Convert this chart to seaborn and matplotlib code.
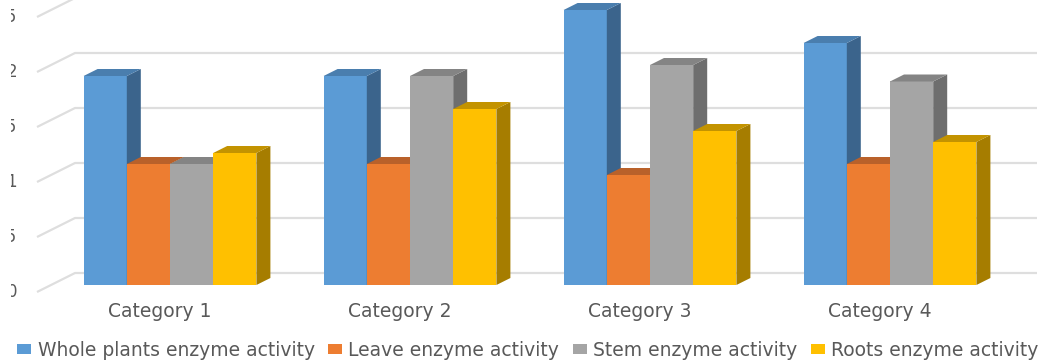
import numpy as np
import pandas as pd
import seaborn as sns
import matplotlib
matplotlib.use("Agg")
import matplotlib.pyplot as plt
from matplotlib.patches import Polygon, Patch
from matplotlib.transforms import ScaledTranslation, Bbox, TransformedBbox

# ---- data -------------------------------------------------------------
categories = ["Category 1", "Category 2", "Category 3", "Category 4"]
series = ["Whole plants enzyme activity", "Leave enzyme activity",
          "Stem enzyme activity", "Roots enzyme activity"]
whole_plants = [1.9, 1.9, 2.5, 2.2]
leave = [1.1, 1.1, 1.0, 1.1]
stem = [1.1, 1.9, 2.0, 1.85]
roots = [1.2, 1.6, 1.4, 1.3]
y_ticks = [0, 0.5, 1, 1.5, 2, 2.5]
y_tick_labels = ["0", "0.5", "1", "1.5", "2", "2.5"]

front_colors = ["#5b9bd5", "#ed7d31", "#a5a5a5", "#ffc000"]
side_colors = ["#3b648c", "#a85a22", "#6e6e6e", "#a67d00"]
top_colors = ["#4a7eae", "#b9612a", "#848484", "#c39300"]
text_color = "#595959"
grid_color = "#dedede"

df = pd.DataFrame({
    "category": categories * 4,
    "series": [s for s in series for _ in categories],
    "value": whole_plants + leave + stem + roots,
})

# ---- figure / axes geometry (pixels) ----------------------------------
W, H, DPI = 1040, 364, 100
PX_X = 240.0        # pixels per category step
PX_Y = 110.0        # pixels per value unit
X0_PX = 170.0       # centre of the first category
BASE_PX = 285.0     # bar baseline, from the top of the image

sns.set_theme(style="white")
plt.rcParams["font.family"] = ["DejaVu Sans"]

fig = plt.figure(figsize=(W / DPI, H / DPI), dpi=DPI)
ax = fig.add_axes([0, (H - BASE_PX) / H, 1, BASE_PX / H])

sns.barplot(data=df, x="category", y="value", hue="series",
            hue_order=series, order=categories, palette=front_colors,
            width=0.72, saturation=1, legend=False, ax=ax,
            errorbar=None, linewidth=0)

ax.set_xlim(-X0_PX / PX_X, (W - X0_PX) / PX_X)
ax.set_ylim(0, BASE_PX / PX_Y)
for s in ax.spines.values():
    s.set_visible(False)
ax.set_xlabel("")
ax.set_ylabel("")

# depth offsets for the oblique 3-D look (in data units)
bar_dx, bar_dy = 14 / PX_X, 7 / PX_Y
floor_front_dy = 7 / PX_Y
wall_dy = 12 / PX_Y
floor_dx = 38 / PX_X
grid_x0 = (37 - X0_PX) / PX_X
grid_x1 = (1037 - X0_PX) / PX_X

# back-wall gridlines with their slanted floor segments
for v in y_ticks:
    ax.plot([grid_x0, grid_x0 + floor_dx, grid_x1],
            [v - floor_front_dy, v + wall_dy, v + wall_dy],
            color=grid_color, lw=1.6, zorder=0.5, clip_on=False,
            solid_capstyle="butt")

# side and top faces for each seaborn bar
for j, container in enumerate(ax.containers):
    for bar in container:
        x, w, h = bar.get_x(), bar.get_width(), bar.get_height()
        bar.set_zorder(2 + 2 * j)
        side = Polygon([(x + w, 0), (x + w + bar_dx, bar_dy),
                        (x + w + bar_dx, h + bar_dy), (x + w, h)],
                       closed=True, facecolor=side_colors[j], edgecolor="none",
                       zorder=3 + 2 * j, clip_on=False)
        top = Polygon([(x, h), (x + bar_dx, h + bar_dy),
                       (x + w + bar_dx, h + bar_dy), (x + w, h)],
                      closed=True, facecolor=top_colors[j], edgecolor="none",
                      zorder=3 + 2 * j, clip_on=False)
        ax.add_patch(side)
        ax.add_patch(top)

# x tick labels under the floor
ax.tick_params(axis="x", length=0, pad=12, labelsize=13.5, labelcolor=text_color)
shift = ScaledTranslation(-10 / DPI, 0, fig.dpi_scale_trans)
for lab in ax.get_xticklabels():
    lab.set_transform(lab.get_transform() + shift)

# y tick labels on the front edge, trimmed by the left margin
ax.set_yticks([])
clip = TransformedBbox(Bbox([[11 / W, 0], [1, 1]]), fig.transFigure)
for v, lab in zip(y_ticks, y_tick_labels):
    t = ax.text(17 / PX_X + ax.get_xlim()[0], v - floor_front_dy, lab,
                ha="right", va="center", fontsize=12, color=text_color)
    t.set_clip_box(clip)
    t.set_clip_on(True)

# legend along the bottom
handles = [Patch(facecolor=c, edgecolor="none", label=s)
           for c, s in zip(front_colors, series)]
fig.legend(handles=handles, loc="center left",
           bbox_to_anchor=(17 / W, 1 - 350 / H), ncol=4, frameon=False,
           fontsize=13.5, handlelength=0.75, handleheight=0.4,
           handletextpad=0.35, columnspacing=0.7, borderpad=0,
           borderaxespad=0, labelcolor=text_color)

fig.savefig("out.png", dpi=DPI, facecolor="white")
